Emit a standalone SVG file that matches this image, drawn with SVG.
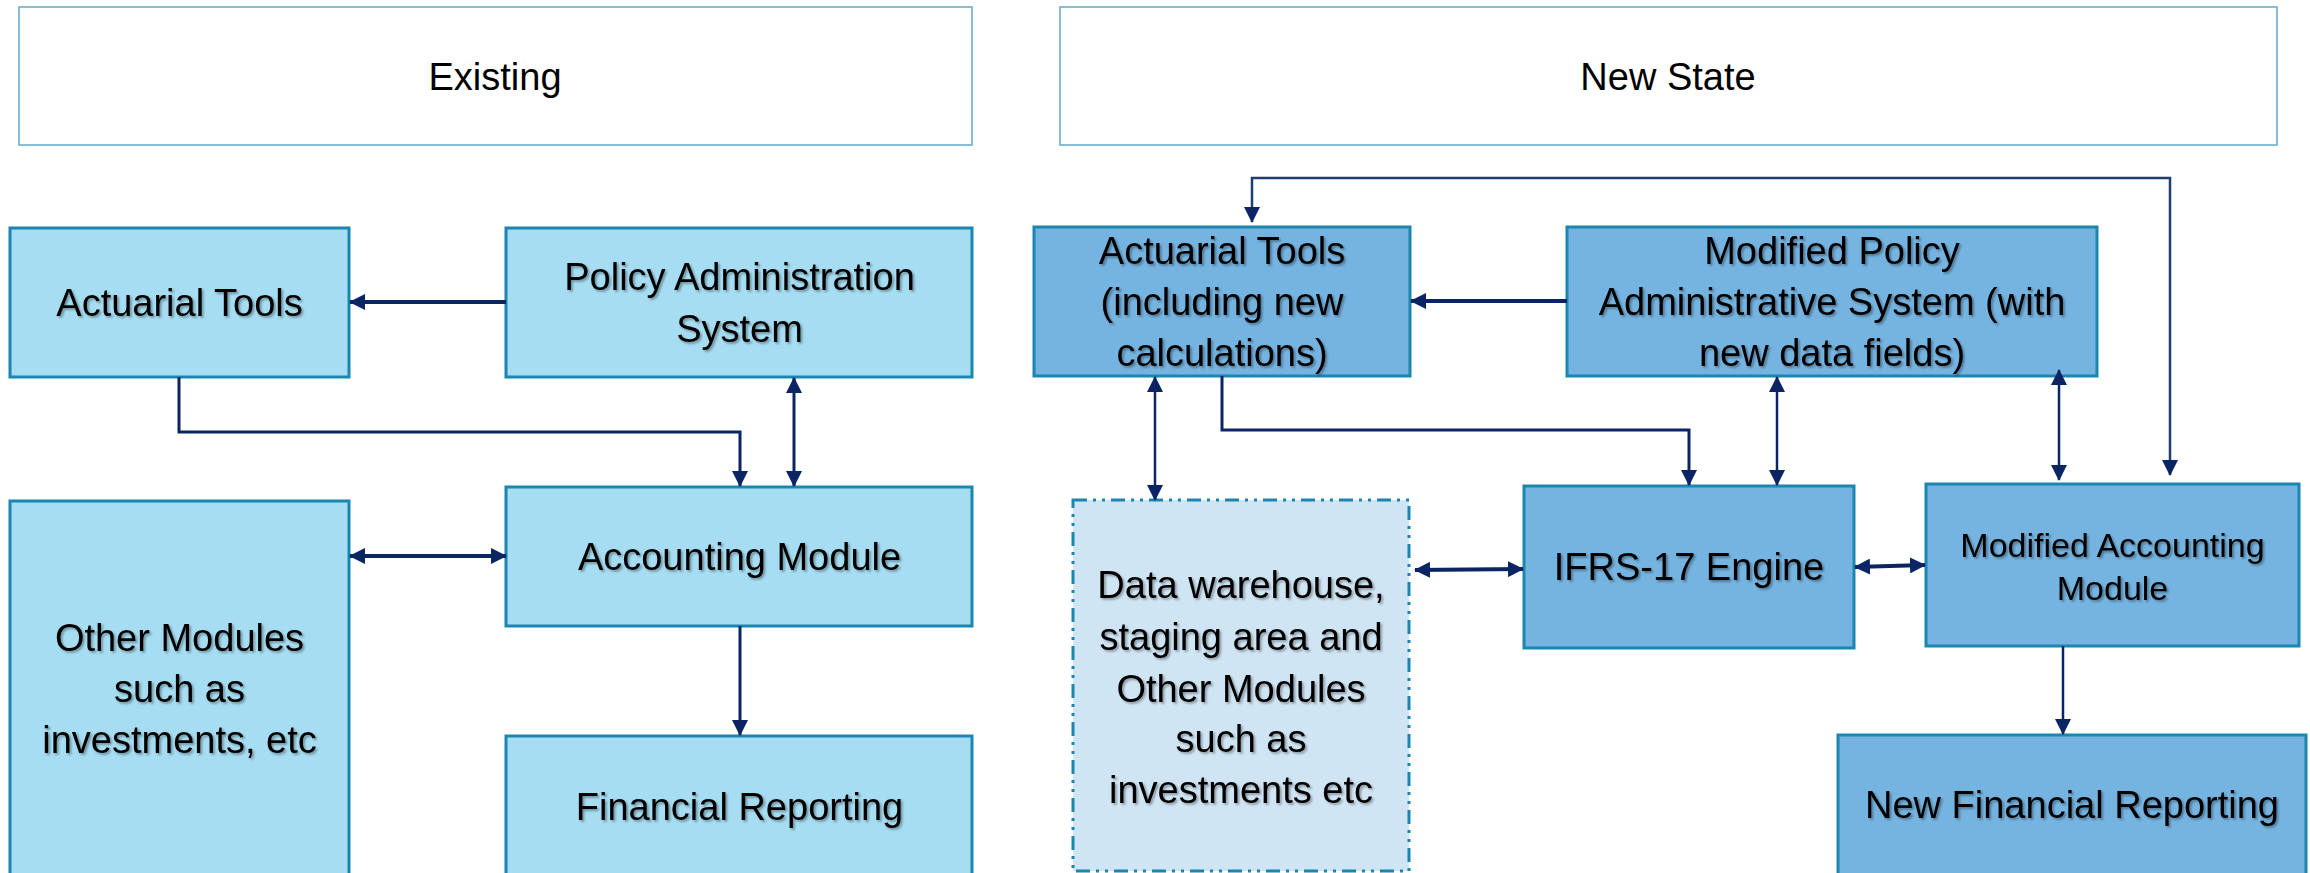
<svg xmlns="http://www.w3.org/2000/svg" width="2310" height="873" viewBox="0 0 2310 873">
  <defs>
    <marker id="arrow" viewBox="0 0 16 16" refX="15" refY="8" markerWidth="16" markerHeight="16" markerUnits="userSpaceOnUse" orient="auto-start-reverse">
      <path d="M0,0 L16,8 L0,16 Z" fill="#0b2464"/>
    </marker>
    <filter id="shadow" x="-5%" y="-20%" width="110%" height="150%">
      <feDropShadow dx="1.8" dy="1.8" stdDeviation="1.1" flood-color="#000" flood-opacity="0.35"/>
    </filter>
  </defs>
  <style>
    text { font-family: "Liberation Sans", Arial, sans-serif; font-size: 38px; fill: #000; text-anchor: middle; }
    .lbl { filter: url(#shadow); }
    .small { font-size: 34px; }
    .header { fill: #ffffff; stroke: #6aaecb; stroke-width: 1.6; }
    .old { fill: #a6ddf2; stroke: #1b86b0; stroke-width: 3; }
    .new { fill: #75b4e1; stroke: #1b86b0; stroke-width: 3; }
    .dw { fill: #d0e5f4; stroke: #1b86b0; stroke-width: 3; stroke-dasharray: 14 6 3 6 3 6; }
    .conn { fill: none; stroke: #0b2464; stroke-width: 3; }
    .thick { stroke-width: 4; }
    .thin { stroke-width: 2.5; }
    .loop { stroke: #203f6c; stroke-width: 2.5; }
  </style>

  <rect width="2310" height="873" fill="#ffffff"/>

  <!-- Section headers -->
  <g id="header-existing">
    <rect class="header" x="19" y="7" width="953" height="138"/>
    <text x="495" y="90">Existing</text>
  </g>
  <g id="header-new-state">
    <rect class="header" x="1060" y="7" width="1217" height="138"/>
    <text x="1668" y="90">New State</text>
  </g>

  <!-- Existing landscape -->
  <g id="actuarial-tools">
    <rect class="old" x="10" y="228" width="339" height="149"/>
    <text class="lbl" x="179.5" y="316">Actuarial Tools</text>
  </g>
  <g id="policy-admin-system">
    <rect class="old" x="506" y="228" width="466" height="149"/>
    <text class="lbl" x="739.5" y="290">Policy Administration</text>
    <text class="lbl" x="739.5" y="342">System</text>
  </g>
  <g id="accounting-module">
    <rect class="old" x="506" y="487" width="466" height="139"/>
    <text class="lbl" x="739.5" y="570">Accounting Module</text>
  </g>
  <g id="other-modules">
    <rect class="old" x="10" y="501" width="339" height="385"/>
    <text class="lbl" x="179.5" y="651">Other Modules</text>
    <text class="lbl" x="179.5" y="702">such as</text>
    <text class="lbl" x="179.5" y="753">investments, etc</text>
  </g>
  <g id="financial-reporting">
    <rect class="old" x="506" y="736" width="466" height="150"/>
    <text class="lbl" x="739.5" y="820">Financial Reporting</text>
  </g>

  <!-- New state landscape -->
  <g id="actuarial-tools-new">
    <rect class="new" x="1034" y="227" width="376" height="149"/>
    <text class="lbl" x="1222" y="264">Actuarial Tools</text>
    <text class="lbl" x="1222" y="315">(including new</text>
    <text class="lbl" x="1222" y="366">calculations)</text>
  </g>
  <g id="modified-policy-system">
    <rect class="new" x="1567" y="227" width="530" height="149"/>
    <text class="lbl" x="1832" y="264">Modified Policy</text>
    <text class="lbl" x="1832" y="315">Administrative System (with</text>
    <text class="lbl" x="1832" y="366">new data fields)</text>
  </g>
  <g id="data-warehouse">
    <rect class="dw" x="1073" y="500" width="336" height="371"/>
    <text class="lbl" x="1241" y="598">Data warehouse,</text>
    <text class="lbl" x="1241" y="650">staging area and</text>
    <text class="lbl" x="1241" y="702">Other Modules</text>
    <text class="lbl" x="1241" y="752">such as</text>
    <text class="lbl" x="1241" y="803">investments etc</text>
  </g>
  <g id="ifrs17-engine">
    <rect class="new" x="1524" y="486" width="330" height="162"/>
    <text class="lbl" x="1689" y="580">IFRS-17 Engine</text>
  </g>
  <g id="modified-accounting-module">
    <rect class="new" x="1926" y="484" width="373" height="162"/>
    <text class="lbl small" x="2112.5" y="557">Modified Accounting</text>
    <text class="lbl small" x="2112.5" y="600">Module</text>
  </g>
  <g id="new-financial-reporting">
    <rect class="new" x="1838" y="735" width="468" height="151"/>
    <text class="lbl" x="2072" y="818">New Financial Reporting</text>
  </g>

  <!-- Connectors -->
  <g id="connectors">
    <!-- existing -->
    <path class="conn thick" d="M506,302 H350" marker-end="url(#arrow)"/>
    <path class="conn" d="M179,377 V432 H740 V486" marker-end="url(#arrow)"/>
    <path class="conn" d="M794,378 V486" marker-start="url(#arrow)" marker-end="url(#arrow)"/>
    <path class="conn thick" d="M350,556 H506" marker-start="url(#arrow)" marker-end="url(#arrow)"/>
    <path class="conn" d="M740,626 V735" marker-end="url(#arrow)"/>

    <!-- new state -->
    <path class="conn thick" d="M1567,301 H1411" marker-end="url(#arrow)"/>
    <path class="conn loop" d="M1252,222 V178 H2170 V475" marker-start="url(#arrow)" marker-end="url(#arrow)"/>
    <path class="conn" d="M1222,376 V430 H1689 V485" marker-end="url(#arrow)"/>
    <path class="conn thin" d="M1777,377 V485" marker-start="url(#arrow)" marker-end="url(#arrow)"/>
    <path class="conn thin" d="M2059,370 V480" marker-start="url(#arrow)" marker-end="url(#arrow)"/>
    <path class="conn thin" d="M1155,377 V500" marker-start="url(#arrow)" marker-end="url(#arrow)"/>
    <path class="conn thick" d="M1415,570 L1523,569" marker-start="url(#arrow)" marker-end="url(#arrow)"/>
    <path class="conn thick" d="M1855,567 L1925,565" marker-start="url(#arrow)" marker-end="url(#arrow)"/>
    <path class="conn thin" d="M2063,646 V734" marker-end="url(#arrow)"/>
  </g>
</svg>
